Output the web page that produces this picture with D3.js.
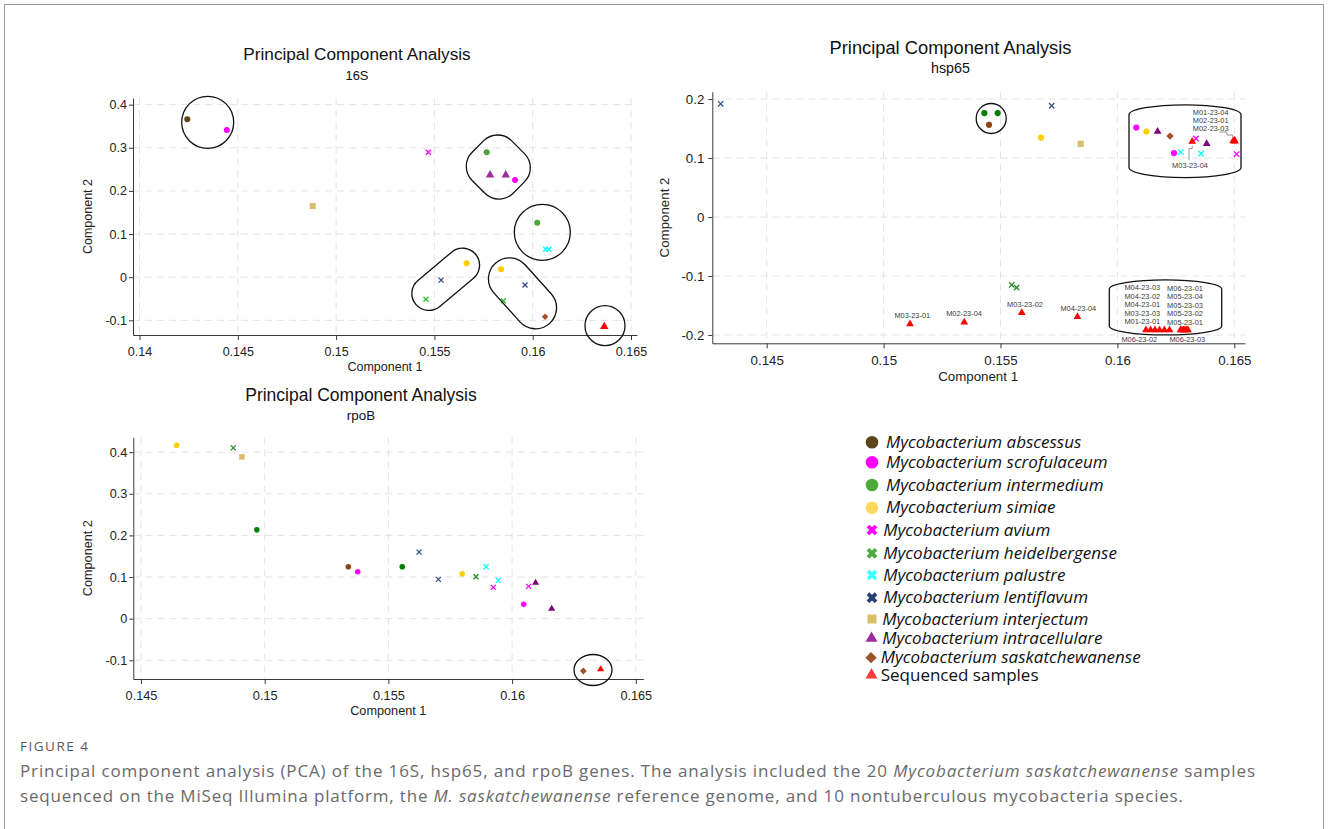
<!DOCTYPE html>
<html><head><meta charset="utf-8">
<script src="https://cdn.jsdelivr.net/npm/d3@7"></script>
<style>
body{margin:0;background:#fff;}
svg{display:block;}
</style></head><body>
<svg id="c" width="1328" height="829"></svg>
<script>
// ---------------- DATA ----------------
const speciesKeys = ["abscessus","scrofulaceum","intermedium","simiae","avium","heidelbergense","palustre","lentiflavum","interjectum","intracellulare","saskatchewanense","sequenced"];
const legendLabels = ["Mycobacterium abscessus","Mycobacterium scrofulaceum","Mycobacterium intermedium","Mycobacterium simiae","Mycobacterium avium","Mycobacterium heidelbergense","Mycobacterium palustre","Mycobacterium lentiflavum","Mycobacterium interjectum","Mycobacterium intracellulare","Mycobacterium saskatchewanense","Sequenced samples"];
const markerShapes = ["circle","circle","circle","circle","x","x","x","x","square","triangle","diamond","triangle"];
const legendColors = ["#5c4517","#ff00ff","#4ca93a","#ffd85c","#ff00ff","#4bab3c","#3fffff","#2b3e72","#d9c068","#9c2c9c","#a0522d","#ff3b3b"];
const colors16S   = ["#5b4312","#ff00ff","#4aa534","#ffcc00","#ff00ff","#33bb33","#00ffff","#2e4a86","#d8bd6a","#9b309b","#a0522d","#ff0000"];
const colorsHsp65 = ["#8b4513","#ff00ff","#008000","#ffcc00","#ff00ff","#228b22","#00ffff","#36548c","#d8bd6a","#800080","#a0522d","#ff0000"];
const colorsRpoB  = ["#8b4513","#ff00ff","#008000","#ffcc00","#ff00ff","#228b22","#00ffff","#36548c","#d8bd6a","#800080","#a0522d","#ff0000"];

const xTicks16S = [0.14,0.145,0.15,0.155,0.16,0.165];
const yTicks16S = [-0.1,0,0.1,0.2,0.3,0.4];
const xTicksHsp65 = [0.145,0.15,0.155,0.16,0.165];
const yTicksHsp65 = [-0.2,-0.1,0,0.1,0.2];
const xTicksRpoB = [0.145,0.15,0.155,0.16,0.165];
const yTicksRpoB = [-0.1,0,0.1,0.2,0.3,0.4];

// [species, component 1, component 2]
const points16S = [
 ["abscessus",0.14243,0.366],
 ["scrofulaceum",0.14444,0.341],
 ["interjectum",0.14881,0.165],
 ["avium",0.15469,0.2895],
 ["intermedium",0.15766,0.2895],
 ["intracellulare",0.15783,0.2369],
 ["intracellulare",0.15863,0.2369],
 ["scrofulaceum",0.1591,0.2253],
 ["intermedium",0.16023,0.1263],
 ["palustre",0.16066,0.0647],
 ["palustre",0.16083,0.0647],
 ["simiae",0.15664,0.0322],
 ["lentiflavum",0.15534,-0.0067],
 ["heidelbergense",0.15457,-0.051],
 ["simiae",0.15839,0.0183],
 ["lentiflavum",0.15961,-0.0181],
 ["heidelbergense",0.15851,-0.0545],
 ["saskatchewanense",0.16063,-0.0916],
 ["sequenced",0.16364,-0.1147]
];

const pointsHsp65 = [
 ["lentiflavum",0.14303,0.192],
 ["lentiflavum",0.15719,0.1887],
 ["intermedium",0.15431,0.1762],
 ["intermedium",0.15488,0.1762],
 ["abscessus",0.15451,0.1564],
 ["simiae",0.15673,0.1348],
 ["interjectum",0.15843,0.1241],
 ["scrofulaceum",0.16081,0.1518],
 ["simiae",0.16124,0.145],
 ["intracellulare",0.16172,0.145],
 ["saskatchewanense",0.16225,0.1372],
 ["avium",0.16336,0.1331],
 ["intracellulare",0.16382,0.1241],
 ["scrofulaceum",0.16242,0.1084],
 ["palustre",0.16271,0.1101],
 ["palustre",0.16358,0.1077],
 ["avium",0.1651,0.1067],
 ["heidelbergense",0.15548,-0.1151],
 ["heidelbergense",0.15569,-0.1197]
];
// sequenced samples in hsp65: [sample, component 1, component 2]
const samplesHsp65 = [
 ["M03-23-04",0.16320,0.1280],
 ["M01-23-04",0.16495,0.1287],
 ["M02-23-01",0.16500,0.1304],
 ["M02-23-03",0.16503,0.1284],
 ["M03-23-01",0.15113,-0.1813],
 ["M02-23-04",0.15345,-0.1784],
 ["M03-23-02",0.15591,-0.1622],
 ["M04-23-04",0.15829,-0.1689],
 ["M04-23-03",0.16122,-0.1915],
 ["M04-23-02",0.16142,-0.1915],
 ["M04-23-01",0.16161,-0.1915],
 ["M03-23-03",0.16180,-0.1915],
 ["M01-23-01",0.16201,-0.1915],
 ["M06-23-02",0.16223,-0.1915],
 ["M06-23-01",0.16270,-0.1915],
 ["M05-23-04",0.16276,-0.1915],
 ["M05-23-03",0.16283,-0.1915],
 ["M05-23-02",0.16289,-0.1915],
 ["M05-23-01",0.16296,-0.1915],
 ["M06-23-03",0.16302,-0.1915]
];
// label anchor (data space) for each sample label in hsp65
const labelsHsp65 = [
 ["M03-23-04",0.163105,0.0880],
 ["M01-23-04",0.163991,0.1767],
 ["M02-23-01",0.163991,0.1637],
 ["M02-23-03",0.163991,0.1501],
 ["M03-23-01",0.151228,-0.1672],
 ["M02-23-04",0.153439,-0.1632],
 ["M03-23-02",0.156048,-0.1479],
 ["M04-23-04",0.158328,-0.1547],
 ["M04-23-03",0.161065,-0.1197],
 ["M04-23-02",0.161065,-0.1343],
 ["M04-23-01",0.161065,-0.1486],
 ["M03-23-03",0.161065,-0.1627],
 ["M01-23-01",0.161065,-0.1774],
 ["M06-23-02",0.160937,-0.2073],
 ["M06-23-01",0.162891,-0.1207],
 ["M05-23-04",0.162891,-0.1350],
 ["M05-23-03",0.162891,-0.1491],
 ["M05-23-02",0.162891,-0.1632],
 ["M05-23-01",0.162891,-0.1784],
 ["M06-23-03",0.162990,-0.2073]
];

const pointsRpoB = [
 ["simiae",0.14644,0.4167],
 ["heidelbergense",0.14873,0.4102],
 ["interjectum",0.14908,0.3886],
 ["intermedium",0.14968,0.2134],
 ["abscessus",0.15338,0.1246],
 ["scrofulaceum",0.15376,0.1126],
 ["lentiflavum",0.15624,0.1599],
 ["intermedium",0.15556,0.1246],
 ["lentiflavum",0.15702,0.0943],
 ["simiae",0.15798,0.1078],
 ["heidelbergense",0.15854,0.1006],
 ["palustre",0.15895,0.1246],
 ["palustre",0.15944,0.0919],
 ["avium",0.15924,0.0751],
 ["avium",0.16067,0.0775],
 ["intracellulare",0.16095,0.0862],
 ["scrofulaceum",0.16047,0.0343],
 ["intracellulare",0.1616,0.0238],
 ["saskatchewanense",0.16288,-0.1258],
 ["sequenced",0.16358,-0.1217]
];

// ---------------- LAYOUT ----------------
const svg = d3.select("#c");
const plotFont = "'Liberation Sans', Arial, sans-serif";

svg.append("rect").attr("x",4.5).attr("y",4.5).attr("width",1319).attr("height",840)
  .attr("fill","none").attr("stroke","#9a9a9a").attr("stroke-width",1);

const panels = [
 {key:"16S", pts:points16S, colors:colors16S, xTicks:xTicks16S, yTicks:yTicks16S,
  left:133, right:637, top:98, bottom:335,
  xDomain:[0.139669,0.165305], yDomain:[-0.134,0.4154],
  titleX:357, titleY:60, titleSize:17.2, subY:80, subSize:12.9,
  tickSize:12.5, xPad:7, yPad:2, axisSize:12.5,
  ylabX:92, xlabY:371,
  mk:{circle:3, x:2.5, square:6, tri:31, dia:4.6},
  enclosures:[
   {type:"circle", cx:0.143469, cy:0.3591, r:26},
   {type:"roundrect", cx:0.15825, cy:0.2554, w:58, h:56, rx:20, rot:45},
   {type:"circle", cx:0.160488, cy:0.1041, r:28},
   {type:"capsule", cx:0.155575, cy:-0.0049, len:44, r:17, rot:-40},
   {type:"capsule", cx:0.159481, cy:-0.0373, len:39, r:21, rot:48},
   {type:"circle", cx:0.163677, cy:-0.1124, r:20}
  ]},
 {key:"hsp65", pts:pointsHsp65, colors:colorsHsp65, xTicks:xTicksHsp65, yTicks:yTicksHsp65,
  left:712.3, right:1245, top:91.7, bottom:343.3,
  xDomain:[0.142673,0.165458], yDomain:[-0.2141,0.2125],
  titleX:950.5, titleY:54, titleSize:18.3, subY:73, subSize:14.3,
  tickSize:13.3, xPad:7.5, yPad:4, axisSize:13.3,
  ylabX:669, xlabY:381,
  mk:{circle:3.1, x:2.7, square:6.3, tri:26, dia:5.2},
  enclosures:[
   {type:"circle", cx:0.154602, cy:0.1671, r:15},
   {type:"barrel", x0:0.160496, x1:0.165287, y0:0.1903, y1:0.0669, b:10},
   {type:"barrel", x0:0.159654, x1:0.164461, y0:-0.1067, y1:-0.2000, b:9}
  ]},
 {key:"rpoB", pts:pointsRpoB, colors:colorsRpoB, xTicks:xTicksRpoB, yTicks:yTicksRpoB,
  left:133.3, right:643.3, top:437.3, bottom:679,
  xDomain:[0.144689,0.165303], yDomain:[-0.145,0.4357],
  titleX:361, titleY:401, titleSize:17.5, subY:420, subSize:13.4,
  tickSize:12.7, xPad:7, yPad:2, axisSize:12.7,
  ylabX:92, xlabY:715,
  mk:{circle:2.8, x:2.5, square:5.5, tri:22, dia:4.8},
  enclosures:[
   {type:"ellipse", cx:0.16327, cy:-0.1234, rx:19, ry:15.5}
  ]}
];

function fmt(d){ return d === 0 ? "0" : String(+d.toFixed(3)); }

function drawMarker(g, shape, px, py, color, mk){
  if(shape==="circle"){
    g.append("circle").attr("cx",px).attr("cy",py).attr("r",mk.circle).attr("fill",color);
  } else if(shape==="x"){
    const s = mk.x;
    g.append("path").attr("d",`M${px-s},${py-s}L${px+s},${py+s}M${px-s},${py+s}L${px+s},${py-s}`)
      .attr("stroke",color).attr("stroke-width",1.3).attr("fill","none");
  } else if(shape==="square"){
    g.append("rect").attr("x",px-mk.square/2).attr("y",py-mk.square/2)
      .attr("width",mk.square).attr("height",mk.square).attr("fill",color);
  } else if(shape==="triangle"){
    g.append("path").attr("d",d3.symbol(d3.symbolTriangle, mk.tri)())
      .attr("transform",`translate(${px},${py})`).attr("fill",color);
  } else if(shape==="diamond"){
    g.append("rect").attr("x",-mk.dia/2).attr("y",-mk.dia/2).attr("width",mk.dia).attr("height",mk.dia)
      .attr("transform",`translate(${px},${py}) rotate(45)`).attr("fill",color);
  }
}

const scales = {};
panels.forEach(p => {
  const x = d3.scaleLinear().domain(p.xDomain).range([p.left,p.right]);
  const y = d3.scaleLinear().domain(p.yDomain).range([p.bottom,p.top]);
  scales[p.key] = {x,y};
  const g = svg.append("g");
  // grid
  g.selectAll(null).data(p.yTicks).join("line")
    .attr("x1",p.left).attr("x2",p.right).attr("y1",d=>y(d)).attr("y2",d=>y(d))
    .attr("stroke","#e4e4e4").attr("stroke-width",1).attr("stroke-dasharray","7,5");
  g.selectAll(null).data(p.xTicks).join("line")
    .attr("y1",p.top).attr("y2",p.bottom).attr("x1",d=>x(d)).attr("x2",d=>x(d))
    .attr("stroke","#e4e4e4").attr("stroke-width",1).attr("stroke-dasharray","7,5");
  // axes
  const xa = g.append("g").attr("transform",`translate(0,${p.bottom})`)
    .call(d3.axisBottom(x).tickValues(p.xTicks).tickFormat(fmt).tickSize(5).tickSizeOuter(0).tickPadding(p.xPad));
  const ya = g.append("g").attr("transform",`translate(${p.left},0)`)
    .call(d3.axisLeft(y).tickValues(p.yTicks).tickFormat(fmt).tickSize(4).tickSizeOuter(0).tickPadding(p.yPad));
  [xa,ya].forEach(a=>{
    a.selectAll("path,line").attr("stroke","#3a3a3a");
    a.selectAll("text").attr("font-family",plotFont).attr("font-size",p.tickSize).attr("fill","#222");
  });
  // axis titles
  g.append("text").attr("x",(p.left+p.right)/2 + (p.key==="hsp65"?-0.5:0)).attr("y",p.xlabY)
    .attr("text-anchor","middle").attr("font-family",plotFont).attr("font-size",p.axisSize).attr("fill","#222")
    .text("Component 1");
  g.append("text").attr("transform",`translate(${p.ylabX},${(p.top+p.bottom)/2}) rotate(-90)`)
    .attr("text-anchor","middle").attr("font-family",plotFont).attr("font-size",p.axisSize).attr("fill","#222")
    .text("Component 2");
  // titles
  g.append("text").attr("x",p.titleX).attr("y",p.titleY).attr("text-anchor","middle")
    .attr("font-family",plotFont).attr("font-size",p.titleSize).attr("fill","#111").text("Principal Component Analysis");
  g.append("text").attr("x",p.titleX).attr("y",p.subY).attr("text-anchor","middle")
    .attr("font-family",plotFont).attr("font-size",p.subSize).attr("fill","#111").text(p.key);
  // points
  const pg = g.append("g");
  p.pts.forEach(([sp,vx,vy]) => {
    const i = speciesKeys.indexOf(sp);
    drawMarker(pg, markerShapes[i], x(vx), y(vy), p.colors[i], p.mk);
  });
  if(p.key==="hsp65"){
    const i = speciesKeys.indexOf("sequenced");
    samplesHsp65.forEach(([name,vx,vy]) => drawMarker(pg, "triangle", x(vx), y(vy), p.colors[i], p.mk));
  }
  // enclosures
  const eg = g.append("g").attr("fill","none").attr("stroke","#111").attr("stroke-width",1.3);
  p.enclosures.forEach(e => {
    if(e.type==="circle"){
      eg.append("circle").attr("cx",x(e.cx)).attr("cy",y(e.cy)).attr("r",e.r);
    } else if(e.type==="ellipse"){
      eg.append("ellipse").attr("cx",x(e.cx)).attr("cy",y(e.cy)).attr("rx",e.rx).attr("ry",e.ry);
    } else if(e.type==="roundrect"){
      eg.append("rect").attr("x",-e.w/2).attr("y",-e.h/2).attr("width",e.w).attr("height",e.h).attr("rx",e.rx)
        .attr("transform",`translate(${x(e.cx)},${y(e.cy)}) rotate(${e.rot})`);
    } else if(e.type==="capsule"){
      const w = e.len + 2*e.r;
      eg.append("rect").attr("x",-w/2).attr("y",-e.r).attr("width",w).attr("height",2*e.r).attr("rx",e.r)
        .attr("transform",`translate(${x(e.cx)},${y(e.cy)}) rotate(${e.rot})`);
    } else if(e.type==="barrel"){
      const x0=x(e.x0), x1=x(e.x1), yt=y(e.y0), yb=y(e.y1), hw=(x1-x0)/2, b=e.b;
      eg.append("path").attr("d",
        `M${x0},${yt+b}A${hw},${b} 0 0 1 ${x1},${yt+b}L${x1},${yb-b}A${hw},${b} 0 0 1 ${x0},${yb-b}Z`);
    }
  });
});

// hsp65 sample labels and leader lines
(function(){
  const {x,y} = scales["hsp65"];
  const lg = svg.append("g");
  labelsHsp65.forEach(([name,vx,vy]) => {
    lg.append("text").attr("x",x(vx)).attr("y",y(vy)).attr("dy","0.35em").attr("text-anchor","middle")
      .attr("font-family",plotFont).attr("font-size",7.4).attr("fill","#3a3a3a").text(name);
  });
  const find = n => samplesHsp65.find(s=>s[0]===n);
  const a = find("M03-23-04"), la = labelsHsp65.find(s=>s[0]==="M03-23-04");
  const ax=x(a[1]), ay=y(a[2]), lx=x(la[1]), ly=y(la[2]);
  lg.append("path").attr("d",`M${ax},${ay+4}L${ax},${ay+7}L${lx-1},${ay+7}L${lx-1},${ly-5}`)
    .attr("fill","none").attr("stroke","#8a8a8a").attr("stroke-width",0.9);
  const b = find("M01-23-04"), lb = labelsHsp65.find(s=>s[0]==="M02-23-03");
  const bx=x(b[1]), by=y(b[2]), lbx=x(lb[1]), lby=y(lb[2]);
  lg.append("path").attr("d",`M${lbx+9},${lby+3.5}L${lbx+16},${lby+3.5}L${lbx+16.5},${lby+6.5}L${bx-0.5},${lby+6.5}L${bx-0.5},${by-4}`)
    .attr("fill","none").attr("stroke","#8a8a8a").attr("stroke-width",0.9);
})();

// legend
const legendRowY = [442.3,462.3,485,507.7,530,553.3,575,597.7,619,638.3,657.7,675];
const legendTextX = [886,886,886,886,883.3,883.3,883.3,883.3,882.3,882.3,880.7,880.7];
const lgd = svg.append("g");
speciesKeys.forEach((k,i) => {
  const cy = legendRowY[i], cx = 872, col = legendColors[i], sh = markerShapes[i];
  if(sh==="circle") lgd.append("circle").attr("cx",cx).attr("cy",cy).attr("r",6.3).attr("fill",col);
  else if(sh==="x") lgd.append("path").attr("d",d3.symbol(d3.symbolCross,72)())
      .attr("transform",`translate(${cx},${cy}) rotate(45)`).attr("fill",col);
  else if(sh==="square") lgd.append("rect").attr("x",cx-4.5).attr("y",cy-4.5).attr("width",9).attr("height",9).attr("fill",col);
  else if(sh==="triangle") lgd.append("path").attr("d",d3.symbol(d3.symbolTriangle,62)())
      .attr("transform",`translate(${cx-0.5},${cy})`).attr("fill",col);
  else if(sh==="diamond") lgd.append("rect").attr("x",-4).attr("y",-4).attr("width",8).attr("height",8)
      .attr("transform",`translate(${cx-1},${cy}) rotate(45)`).attr("fill",col);
  lgd.append("text").attr("x",legendTextX[i]).attr("y",cy+5.5)
    .attr("font-family","'Open Sans', 'Noto Sans', sans-serif").attr("font-size",17)
    .attr("font-style", k==="sequenced" ? "normal" : "italic").attr("fill","#111").text(legendLabels[i]);
});

// caption
const cap = svg.append("g").attr("font-family","'Open Sans', 'Noto Sans', sans-serif").attr("fill","#6a6a6a");
cap.append("text").attr("x",20).attr("y",751).attr("font-size",13.5).attr("fill","#5a5a5a")
  .attr("textLength",68).attr("lengthAdjust","spacing").text("FIGURE 4");
const l1 = cap.append("text").attr("x",20).attr("y",777).attr("font-size",17)
  .attr("textLength",1235).attr("lengthAdjust","spacing");
l1.append("tspan").text("Principal component analysis (PCA) of the 16S, hsp65, and rpoB genes. The analysis included the 20 ");
l1.append("tspan").attr("font-style","italic").text("Mycobacterium saskatchewanense");
l1.append("tspan").text(" samples");
const l2 = cap.append("text").attr("x",20).attr("y",802).attr("font-size",17)
  .attr("textLength",1163).attr("lengthAdjust","spacing");
l2.append("tspan").text("sequenced on the MiSeq Illumina platform, the ");
l2.append("tspan").attr("font-style","italic").text("M. saskatchewanense");
l2.append("tspan").text(" reference genome, and 10 nontuberculous mycobacteria species.");
</script>
</body></html>
